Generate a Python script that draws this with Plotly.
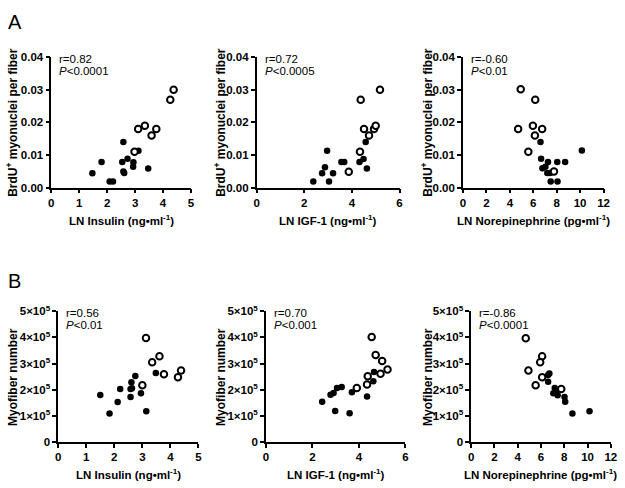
import plotly.graph_objects as go

W, H = 625, 488
FONT = "Liberation Sans, Arial, sans-serif"

# ---------------- Data ----------------
# Panel A: BrdU+ myonuclei per fiber
a_brdu_open_ins_x = [4.38, 4.26, 3.35, 3.11, 3.76, 3.59, 2.98]
a_brdu_open_ins_y = [0.030, 0.027, 0.019, 0.018, 0.018, 0.016, 0.011]
a_brdu_fill_ins_x = [1.47, 1.80, 2.09, 2.21, 2.58, 2.54, 2.58, 2.61, 2.73, 2.94, 2.93, 3.47, 3.12]
a_brdu_fill_ins_y = [0.0044, 0.0079, 0.0019, 0.0019, 0.014, 0.0079, 0.0050, 0.0045, 0.0089, 0.0078, 0.0064, 0.0059, 0.0113]

a_brdu_open_igf_x = [5.18, 4.37, 4.51, 4.72, 4.93, 5.00, 4.34, 3.87]
a_brdu_open_igf_y = [0.030, 0.027, 0.018, 0.016, 0.018, 0.019, 0.011, 0.0049]
a_brdu_fill_igf_x = [2.96, 2.87, 2.75, 2.38, 3.04, 3.21, 3.56, 3.68, 4.32, 4.49, 4.63, 4.58]
a_brdu_fill_igf_y = [0.0113, 0.0063, 0.0044, 0.0019, 0.0019, 0.0044, 0.0079, 0.0079, 0.0079, 0.0088, 0.0059, 0.014]

a_brdu_open_ne_x = [4.93, 6.17, 4.71, 5.97, 6.76, 6.14, 5.58, 7.77]
a_brdu_open_ne_y = [0.0302, 0.027, 0.018, 0.019, 0.018, 0.016, 0.011, 0.005]
a_brdu_fill_ne_x = [6.62, 6.67, 6.78, 7.04, 7.26, 7.20, 7.43, 7.49, 8.07, 8.05, 8.72, 10.15]
a_brdu_fill_ne_y = [0.014, 0.0089, 0.0060, 0.0064, 0.0079, 0.0045, 0.0045, 0.0019, 0.0019, 0.0079, 0.0079, 0.0114]

# Panel B: Myofiber number
b_myo_open_ins_x = [3.13, 3.61, 3.35, 3.77, 4.38, 4.27, 3.00]
b_myo_open_ins_y = [3.98e5, 3.28e5, 3.05e5, 2.59e5, 2.73e5, 2.48e5, 2.17e5]
b_myo_fill_ins_x = [1.50, 1.83, 2.12, 2.21, 2.75, 2.61, 2.58, 2.63, 2.58, 2.95, 3.14, 3.48]
b_myo_fill_ins_y = [1.80e5, 1.09e5, 1.53e5, 2.03e5, 2.52e5, 2.28e5, 2.03e5, 2.05e5, 1.72e5, 1.86e5, 1.17e5, 2.64e5]

b_myo_open_igf_x = [4.55, 4.72, 5.00, 5.23, 4.93, 4.38, 4.35, 3.91]
b_myo_open_igf_y = [4.02e5, 3.33e5, 3.10e5, 2.77e5, 2.61e5, 2.51e5, 2.20e5, 2.06e5]
b_myo_fill_igf_x = [2.42, 2.78, 2.91, 3.06, 3.26, 2.98, 3.60, 3.70, 4.35, 4.62, 4.65]
b_myo_fill_igf_y = [1.54e5, 1.81e5, 1.87e5, 2.06e5, 2.10e5, 1.18e5, 1.10e5, 1.90e5, 1.74e5, 2.32e5, 2.68e5]

b_myo_open_ne_x = [4.69, 6.10, 5.93, 4.92, 6.10, 5.54, 7.74]
b_myo_open_ne_y = [3.97e5, 3.28e5, 3.05e5, 2.73e5, 2.48e5, 2.17e5, 2.03e5]
b_myo_fill_ne_x = [6.72, 6.61, 6.61, 7.18, 7.06, 7.43, 8.02, 8.08, 8.70, 10.17, 7.30]
b_myo_fill_ne_y = [2.62e5, 2.56e5, 2.30e5, 2.06e5, 1.86e5, 1.79e5, 1.72e5, 1.54e5, 1.09e5, 1.17e5, 1.95e5]

stats_text = [("r=0.82", "P", "<0.0001"), ("r=0.72", "P", "<0.0005"), ("r=-0.60", "P", "<0.01"),
              ("r=0.56", "P", "<0.01"), ("r=0.70", "P", "<0.001"), ("r=-0.86", "P", "<0.0001")]

x_titles = ["LN Insulin (ng•ml<sup>-1</sup>)", "LN IGF-1 (ng•ml<sup>-1</sup>)",
            "LN Norepinephrine (pg•ml<sup>-1</sup>)"]
y_title_a = "BrdU<sup>+</sup> myonuclei per fiber"
y_title_b = "Myofiber number"

x_ranges = [5, 6, 12]
x_dticks = [1, 2, 2]
a_yticks = [0, 0.01, 0.02, 0.03, 0.04]
a_yticktext = ["0.00", "0.01", "0.02", "0.03", "0.04"]
b_yticks = [0, 1e5, 2e5, 3e5, 4e5, 5e5]
b_yticktext = ["0", "1×10<sup>5</sup>", "2×10<sup>5</sup>", "3×10<sup>5</sup>", "4×10<sup>5</sup>", "5×10<sup>5</sup>"]

panels = [
    (a_brdu_open_ins_x, a_brdu_open_ins_y, a_brdu_fill_ins_x, a_brdu_fill_ins_y),
    (a_brdu_open_igf_x, a_brdu_open_igf_y, a_brdu_fill_igf_x, a_brdu_fill_igf_y),
    (a_brdu_open_ne_x, a_brdu_open_ne_y, a_brdu_fill_ne_x, a_brdu_fill_ne_y),
    (b_myo_open_ins_x, b_myo_open_ins_y, b_myo_fill_ins_x, b_myo_fill_ins_y),
    (b_myo_open_igf_x, b_myo_open_igf_y, b_myo_fill_igf_x, b_myo_fill_igf_y),
    (b_myo_open_ne_x, b_myo_open_ne_y, b_myo_fill_ne_x, b_myo_fill_ne_y),
]

# ---------------- Layout geometry (pixels) ----------------
boxes = [  # x0, x1, ytop, ybottom
    (49, 190.7, 50.7, 185),
    (257.3, 402.3, 50.7, 185),
    (466.7, 609.3, 50.7, 185),
    (56, 198.3, 312.3, 446.7),
    (266.7, 408.3, 312.3, 446.7),
    (475, 616.7, 312.3, 446.7),
]
ytitle_x = [9.5, 220.5, 430.5, 9.5, 220.5, 430.5]


def px(x):
    return x / W


def py(y):
    return 1 - y / H


fig = go.Figure()
layout = dict(
    width=W, height=H, margin=dict(l=0, r=0, t=0, b=0),
    paper_bgcolor="white", plot_bgcolor="white", showlegend=False,
    font=dict(family=FONT, color="black", size=11),
)
annotations = []

for i, (ox, oy, fx, fy) in enumerate(panels):
    n = i + 1
    xa = "x" if n == 1 else f"x{n}"
    ya = "y" if n == 1 else f"y{n}"
    fig.add_trace(go.Scatter(x=fx, y=fy, mode="markers", xaxis=xa, yaxis=ya,
                             marker=dict(symbol="circle", size=6.5, color="black"),
                             cliponaxis=False))
    fig.add_trace(go.Scatter(x=ox, y=oy, mode="markers", xaxis=xa, yaxis=ya,
                             marker=dict(symbol="circle", size=6.5, color="white",
                                         line=dict(color="black", width=2)),
                             cliponaxis=False))
    x0, x1, yt, yb = boxes[i]
    col = i % 3
    row_a = i < 3
    axis_common = dict(showline=True, linecolor="black", linewidth=1.5, ticks="outside",
                       ticklen=4, tickwidth=1.5, tickcolor="black", showgrid=False,
                       zeroline=False, mirror=False,
                       tickfont=dict(family=FONT, size=11.5, color="black", weight="bold"))
    layout["xaxis" if n == 1 else f"xaxis{n}"] = dict(
        domain=[px(x0), px(x1)], anchor=ya, range=[0, x_ranges[col]],
        dtick=x_dticks[col], tick0=0, **axis_common)
    layout["yaxis" if n == 1 else f"yaxis{n}"] = dict(
        domain=[py(yb), py(yt)], anchor=xa,
        range=[0, 0.04] if row_a else [0, 5e5],
        tickvals=a_yticks if row_a else b_yticks,
        ticktext=a_yticktext if row_a else b_yticktext, **axis_common)

    # x title
    annotations.append(dict(x=px((x0 + x1) / 2), y=py(yb + 33), xref="paper", yref="paper",
                            text=x_titles[col], showarrow=False, xanchor="center", yanchor="middle",
                            font=dict(family=FONT, size=11.5, color="black", weight="bold")))
    # y title
    annotations.append(dict(x=px(ytitle_x[i]), y=py((yt + yb) / 2), xref="paper", yref="paper",
                            text=y_title_a if row_a else y_title_b, textangle=-90,
                            showarrow=False, xanchor="center", yanchor="middle",
                            font=dict(family=FONT, size=12, color="black", weight="bold")))
    # stats
    r_t, p_t, pv = stats_text[i]
    annotations.append(dict(x=px(x0 + 6), y=py(yt + 2), xref="paper", yref="paper",
                            text=r_t, showarrow=False, xanchor="left", yanchor="middle",
                            font=dict(family=FONT, size=11.5, color="black")))
    annotations.append(dict(x=px(x0 + 6), y=py(yt + 14), xref="paper", yref="paper",
                            text=f"<i>{p_t}</i>{pv}", showarrow=False, xanchor="left", yanchor="middle",
                            font=dict(family=FONT, size=11.5, color="black")))

annotations.append(dict(x=px(3), y=py(14), xref="paper", yref="paper", text="A", showarrow=False,
                        xanchor="left", yanchor="middle", font=dict(family=FONT, size=20, color="black")))
annotations.append(dict(x=px(3), y=py(281), xref="paper", yref="paper", text="B", showarrow=False,
                        xanchor="left", yanchor="middle", font=dict(family=FONT, size=20, color="black")))

layout["annotations"] = annotations
fig.update_layout(**layout)
fig.write_html("out.html", config={"displayModeBar": False},
               post_script="document.body.style.margin='0px';document.body.style.overflow='hidden';")
